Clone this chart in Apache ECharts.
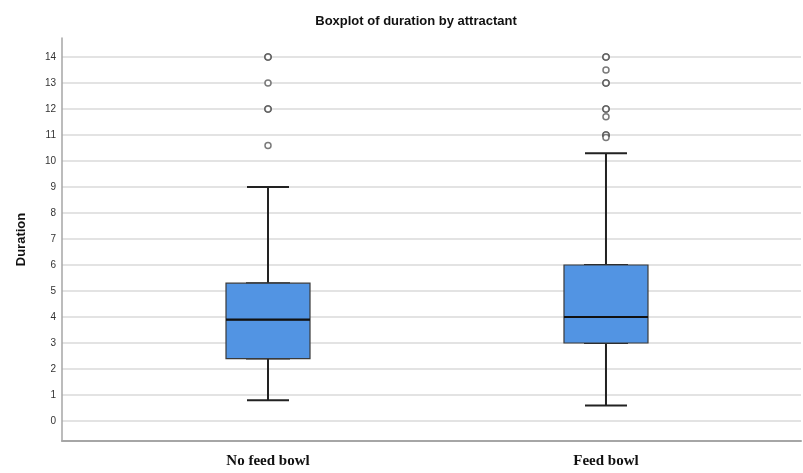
<!DOCTYPE html>
<html>
<head>
<meta charset="utf-8">
<script src="https://cdn.jsdelivr.net/npm/echarts@6/dist/echarts.min.js"></script>
<style>html,body{margin:0;padding:0;background:#fff;}#c{width:803px;height:473px;}</style>
</head>
<body>
<div id="c"></div>
<script>
// ---- data ----
const categories = ['No feed bowl', 'Feed bowl'];
// [min whisker, Q1, median, Q3, max whisker]
const boxStats = [
  [0.8, 2.4, 3.9, 5.3, 9.0],
  [0.6, 3.0, 4.0, 6.0, 10.3]
];
const outliersNoBowl = [14, 14, 13, 12, 12, 10.6];
const outliersBowl = [14, 14, 13.5, 13, 13, 12, 12, 11.7, 11, 11, 10.9];
const yTicks = [0,1,2,3,4,5,6,7,8,9,10,11,12,13,14];

// ---- build ----
const whiskerData = boxStats.map((s, i) => [i, s[0], s[1], s[2], s[3], s[4]]);
const bodyData = boxStats.map((s, i) => [i, s[1], s[1], s[2], s[3], s[3]]);
const medianData = boxStats.map((s, i) => [i, s[2]]);
const outlierData = []
  .concat(outliersNoBowl.map(v => [0, v]))
  .concat(outliersBowl.map(v => [1, v]));

const X_MIN = -0.6095, X_MAX = 1.577;
const Y_MIN = -0.7692, Y_MAX = 14.7308;

const chart = echarts.init(document.getElementById('c'), null, {renderer: 'canvas'});
chart.setOption({
  animation: false,
  backgroundColor: '#ffffff',
  title: {
    text: 'Boxplot of duration by attractant',
    left: 411, top: 10, textAlign: 'center',
    textStyle: {fontFamily: 'Liberation Sans', fontWeight: 'bold', fontSize: 13, color: '#111'}
  },
  grid: {left: 62, right: 2, top: 38, bottom: 32, containLabel: false},
  xAxis: [{
    type: 'value', min: X_MIN, max: X_MAX,
    axisLine: {show: true, onZero: false, lineStyle: {color: '#a6a6a6', width: 2}},
    axisTick: {show: false, customValues: [0, 1]},
    splitLine: {show: false},
    axisLabel: {
      customValues: [0, 1], margin: 13,
      formatter: v => categories[Math.round(v)],
      fontFamily: 'Liberation Serif', fontWeight: 'bold', fontSize: 15, color: '#111'
    }
  }, {
    type: 'value', min: X_MIN, max: X_MAX, show: false,
    axisLine: {onZero: false},
    splitLine: {show: false}
  }],
  yAxis: {
    type: 'value', min: Y_MIN, max: Y_MAX,
    name: 'Duration', nameLocation: 'middle', nameGap: 34, nameRotate: 90,
    nameTextStyle: {fontFamily: 'Liberation Sans', fontWeight: 'bold', fontSize: 13, color: '#111'},
    axisLine: {show: true, onZero: false, lineStyle: {color: '#a6a6a6', width: 1.5}},
    axisTick: {show: false, customValues: yTicks},
    axisLabel: {customValues: yTicks, margin: 6, fontFamily: 'Liberation Sans', fontSize: 10, color: '#333'},
    splitLine: {show: true, lineStyle: {color: '#dadada', width: 1.5}}
  },
  series: [{
    name: 'whiskers', type: 'boxplot', layout: 'horizontal',
    xAxisIndex: 1, yAxisIndex: 0,
    boxWidth: [42, 42], z: 2,
    itemStyle: {color: 'rgba(0,0,0,0)', borderColor: '#222', borderWidth: 2},
    data: whiskerData
  }, {
    name: 'box', type: 'boxplot', layout: 'horizontal',
    xAxisIndex: 0, yAxisIndex: 0,
    boxWidth: [84, 84], z: 3,
    itemStyle: {color: '#5294e3', borderColor: '#3a3a3a', borderWidth: 1.2},
    data: bodyData
  }, {
    name: 'median', type: 'scatter', xAxisIndex: 0, yAxisIndex: 0, z: 4,
    symbol: 'rect', symbolSize: [84, 2.2],
    itemStyle: {color: '#111', opacity: 1},
    data: medianData
  }, {
    name: 'outliers', type: 'scatter', xAxisIndex: 0, yAxisIndex: 0, z: 5,
    symbol: 'circle', symbolSize: 6,
    itemStyle: {color: '#ffffff', borderColor: 'rgba(50,50,50,0.65)', borderWidth: 1.5, opacity: 1},
    data: outlierData
  }]
});
</script>
</body>
</html>
